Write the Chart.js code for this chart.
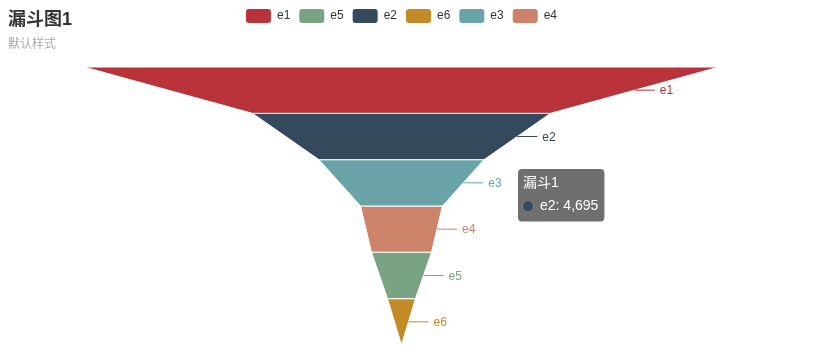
<!DOCTYPE html>
<html>
<head>
<meta charset="utf-8">
<title>漏斗图1</title>
<script src="https://cdn.jsdelivr.net/npm/chart.js@4/dist/chart.umd.min.js"></script>
<style>
    html, body { margin: 0; padding: 0; background: #fff; }
    #wrap { position: relative; width: 837px; height: 357px; }
    #chartTitle {
        position: absolute; left: 8px; top: 9px;
        font: bold 18px/20px "Liberation Sans", "Noto Sans CJK SC", sans-serif;
        color: #333;
    }
    #chartSubtitle {
        position: absolute; left: 8px; top: 37px;
        font: 12px/14px "Liberation Sans", "Noto Sans CJK SC", sans-serif;
        color: #aaa;
    }
</style>
</head>
<body>
<div id="wrap">
    <canvas id="funnelChart"></canvas>
    <div id="chartTitle">漏斗图1</div>
    <div id="chartSubtitle">默认样式</div>
</div>
<script>
// Data (legend / data order)
const seriesName = '漏斗1';
const categories = ['e1', 'e5', 'e2', 'e6', 'e3', 'e4'];
const values = [10000, 945, 4695, 440, 2600, 1290];
const colors = ['#b9333a', '#79a383', '#34495c', '#c38a28', '#6aa3a8', '#cd826a'];

const FONT = '"Liberation Sans", "Noto Sans CJK SC", sans-serif';
Chart.defaults.font.family = FONT;

// Funnel layers: sorted by value, each layer a trapezoid from its value to the next one
const order = values.map((v, i) => i).sort((a, b) => values[b] - values[a]);
const maxValue = Math.max(...values);

const datasets = categories.map((name, i) => {
    const rank = order.indexOf(i);
    const v = values[i];
    const next = rank + 1 < order.length ? values[order[rank + 1]] : 0;
    return {
        label: name,
        data: [
            { x: -v / 2, y: rank },
            { x: v / 2, y: rank },
            { x: next / 2, y: rank + 1 },
            { x: -next / 2, y: rank + 1 },
            { x: -v / 2, y: rank }
        ],
        backgroundColor: colors[i],
        borderColor: '#fff',
        borderWidth: 1,
        fill: 'shape',
        tension: 0,
        pointRadius: 0,
        pointHoverRadius: 0
    };
});

// Labels on the right edge with a short guide line
const funnelLabels = {
    id: 'funnelLabels',
    afterDatasetsDraw(chart) {
        const { ctx, scales: { x, y } } = chart;
        ctx.save();
        ctx.font = '12px ' + FONT;
        ctx.textBaseline = 'middle';
        ctx.lineWidth = 1;
        chart.data.datasets.forEach(ds => {
            const p = ds.data;
            const edgeX = x.getPixelForValue((p[1].x + p[2].x) / 2);
            const midY = y.getPixelForValue((p[1].y + p[2].y) / 2);
            ctx.strokeStyle = ds.backgroundColor;
            ctx.beginPath();
            ctx.moveTo(edgeX, midY);
            ctx.lineTo(edgeX + 20, midY);
            ctx.stroke();
            ctx.fillStyle = ds.backgroundColor;
            ctx.fillText(ds.label, edgeX + 25, midY + 1);
        });
        ctx.restore();
    }
};

// Extra room under the legend
const legendSpacer = {
    id: 'legendSpacer',
    afterInit(chart) {
        const fit = chart.legend.fit;
        chart.legend.fit = function () {
            fit.call(this);
            this.height += 34;
        };
    }
};

Chart.Tooltip.positioners.atEvent = function (items, eventPosition) {
    return eventPosition;
};

const chart = new Chart(document.getElementById('funnelChart'), {
    type: 'line',
    data: { datasets: datasets },
    options: {
        responsive: true,
        maintainAspectRatio: false,
        animation: false,
        events: [],
        layout: { padding: { left: 84, right: 118, top: 0, bottom: 12 } },
        scales: {
            x: { type: 'linear', display: false, min: -maxValue / 2, max: maxValue / 2 },
            y: { type: 'linear', display: false, reverse: true, min: 0, max: categories.length }
        },
        plugins: {
            legend: {
                position: 'top',
                labels: {
                    boxWidth: 25,
                    boxHeight: 14,
                    padding: 9,
                    color: '#333',
                    font: { size: 12 },
                    useBorderRadius: true,
                    borderRadius: 3,
                    generateLabels(chart) {
                        return chart.data.datasets.map((ds, i) => ({
                            text: ds.label,
                            fillStyle: ds.backgroundColor,
                            strokeStyle: ds.backgroundColor,
                            lineWidth: 0,
                            hidden: false,
                            datasetIndex: i,
                            fontColor: '#333',
                            borderRadius: 3
                        }));
                    }
                }
            },
            tooltip: {
                position: 'atEvent',
                xAlign: 'left',
                yAlign: 'top',
                caretSize: 0,
                caretPadding: 0,
                cornerRadius: 4,
                backgroundColor: 'rgba(50,50,50,0.7)',
                padding: { left: 5, right: 6, top: 6, bottom: 7 },
                titleColor: '#fff',
                bodyColor: '#fff',
                titleFont: { size: 14, weight: 'normal' },
                bodyFont: { size: 14 },
                titleMarginBottom: 6,
                usePointStyle: true,
                boxWidth: 10,
                boxHeight: 10,
                boxPadding: 5,
                callbacks: {
                    title: () => seriesName,
                    label: item => categories[item.datasetIndex] + ': ' + values[item.datasetIndex].toLocaleString('en-US'),
                    labelColor: item => ({
                        borderColor: colors[item.datasetIndex],
                        backgroundColor: colors[item.datasetIndex]
                    }),
                    labelPointStyle: () => ({ pointStyle: 'circle', rotation: 0 })
                }
            }
        }
    },
    plugins: [funnelLabels, legendSpacer]
});

// Show the tooltip for e2 as in the reference
chart.tooltip.setActiveElements([{ datasetIndex: categories.indexOf('e2'), index: 0 }], { x: 522, y: 169 });
chart.update();
</script>
</body>
</html>
